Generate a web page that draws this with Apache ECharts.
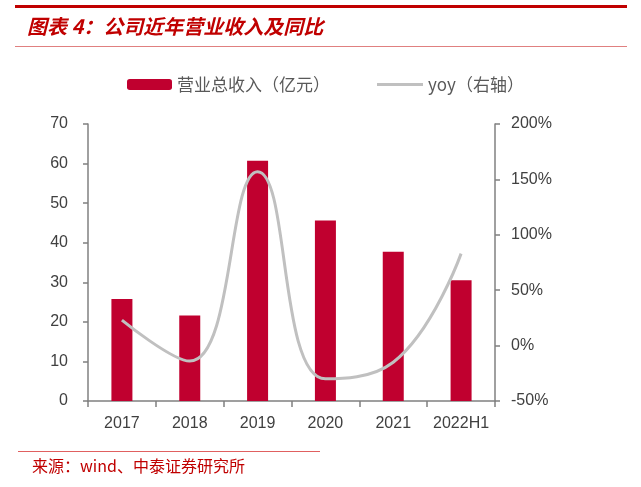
<!DOCTYPE html>
<html>
<head>
<meta charset="utf-8">
<script src="https://cdn.jsdelivr.net/npm/echarts@6/dist/echarts.min.js"></script>
<style>
html, body { margin: 0; padding: 0; background: #fff; }
#chart { width: 641px; height: 487px; }
</style>
</head>
<body>
<div id="chart"></div>
<script>
var years = ['2017', '2018', '2019', '2020', '2021', '2022H1'];
var revenue = [25.8, 21.6, 60.7, 45.6, 37.7, 30.5];
var yoy = [23, -14, 157, -30, -15, 83];

var myChart = echarts.init(document.getElementById('chart'));
var axisGrey = '#808080';
var textGrey = '#595959';
var font = 'Arial, "Liberation Sans", sans-serif';

var option = {
	animation: false,
	backgroundColor: '#fff',
	graphic: [
		{ type: 'rect', shape: { x: 15, y: 5, width: 612, height: 3 }, style: { fill: '#C00000' } },
		{ type: 'text', left: 27, top: 16, style: { text: '图表 4：公司近年营业收入及同比', fill: '#C00000',
			font: 'italic bold 20px "Noto Sans CJK SC"' } },
		{ type: 'rect', shape: { x: 15, y: 46, width: 612, height: 1 }, style: { fill: '#E08080' } },
		{ type: 'rect', shape: { x: 18, y: 451, width: 302, height: 1 }, style: { fill: '#E06060' } },
		{ type: 'text', left: 32, top: 458, style: { text: '来源：wind、中泰证券研究所', fill: '#C00000',
			font: '16px "Noto Sans CJK SC"' } }
	],
	legend: [
		{ data: ['营业总收入（亿元）'], left: 122, top: 71, itemWidth: 45, itemHeight: 11, itemGap: 6,
			textStyle: { color: textGrey, fontSize: 17, fontFamily: '"Noto Sans CJK SC"' } },
		{ data: [{ name: 'yoy（右轴）', icon: 'rect' }], left: 372, top: 71, itemWidth: 46, itemHeight: 3,
			textStyle: { color: textGrey, fontSize: 17, fontFamily: '"Noto Sans CJK SC"' } }
	],
	grid: { left: 88, right: 146, top: 124, bottom: 86 },
	xAxis: {
		type: 'category',
		data: years,
		axisLine: { lineStyle: { color: axisGrey, width: 1.5 } },
		axisTick: { show: true, length: 6, lineStyle: { color: axisGrey, width: 1.5 } },
		axisLabel: { color: '#404040', fontSize: 16, fontFamily: font, margin: 15, interval: 0 }
	},
	yAxis: [
		{
			type: 'value', min: 0, max: 70, interval: 10,
			axisLine: { show: true, lineStyle: { color: axisGrey, width: 1.5 } },
			axisTick: { show: true, length: 5, lineStyle: { color: axisGrey, width: 1.5 } },
			splitLine: { show: false },
			axisLabel: { color: '#404040', fontSize: 16, fontFamily: font, margin: 20 }
		},
		{
			type: 'value', min: -50, max: 200, interval: 50,
			axisLine: { show: true, lineStyle: { color: axisGrey, width: 1.5 } },
			axisTick: { show: true, length: 5, lineStyle: { color: axisGrey, width: 1.5 } },
			splitLine: { show: false },
			axisLabel: { color: '#404040', fontSize: 16, fontFamily: font, margin: 16,
				formatter: function (v) { return v + '%'; } }
		}
	],
	series: [
		{
			name: '营业总收入（亿元）',
			type: 'bar',
			data: revenue,
			barWidth: 21,
			itemStyle: { color: '#C0002F' }
		},
		{
			name: 'yoy（右轴）',
			type: 'line',
			yAxisIndex: 1,
			data: yoy,
			smooth: 0.45,
			symbol: 'none',
			itemStyle: { color: '#C0C0C0' },
			lineStyle: { color: '#C0C0C0', width: 3 }
		}
	]
};
myChart.setOption(option);
</script>
</body>
</html>
